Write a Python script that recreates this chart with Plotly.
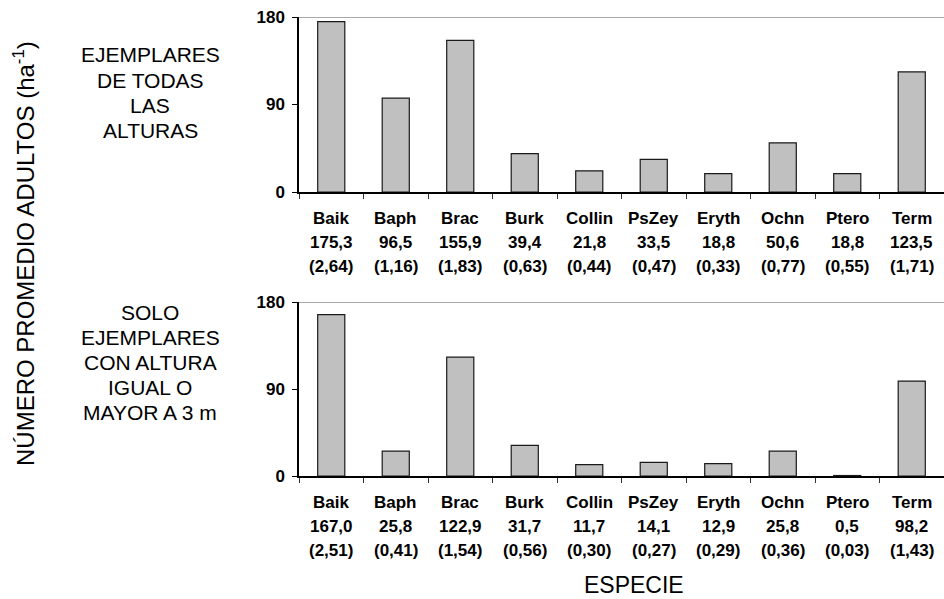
import plotly.graph_objects as go

# Species codes (x categories)
especies = ["Baik", "Baph", "Brac", "Burk", "Collin", "PsZey", "Eryth", "Ochn", "Ptero", "Term"]

# All heights: mean adults per hectare and value in parentheses
todas_media = [175.3, 96.5, 155.9, 39.4, 21.8, 33.5, 18.8, 50.6, 18.8, 123.5]
todas_paren = [2.64, 1.16, 1.83, 0.63, 0.44, 0.47, 0.33, 0.77, 0.55, 1.71]

# Only trees >= 3 m tall
mayor3_media = [167.0, 25.8, 122.9, 31.7, 11.7, 14.1, 12.9, 25.8, 0.5, 98.2]
mayor3_paren = [2.51, 0.41, 1.54, 0.56, 0.30, 0.27, 0.29, 0.36, 0.03, 1.43]

y_ticks = [0, 90, 180]

# panel captions, one entry per line
caption_todas = ["EJEMPLARES", "DE TODAS", "LAS", "ALTURAS"]
caption_mayor3 = ["SOLO", "EJEMPLARES", "CON ALTURA", "IGUAL O", "MAYOR A 3 m"]

W, H = 944, 599
FONT = "Arial, Liberation Sans, sans-serif"


def coma(v, dec):
    return f"{v:.{dec}f}".replace(".", ",")


def py(px):
    return 1 - px / H


fig = go.Figure()

panels = [
    ("x", "y", todas_media, todas_paren),
    ("x2", "y2", mayor3_media, mayor3_paren),
]

annotations = []
shapes = []
for xa, ya, media, paren in panels:
    fig.add_trace(go.Bar(
        x=especies, y=media, xaxis=xa, yaxis=ya, width=0.42,
        marker=dict(color="#C0C0C0", line=dict(color="#1a1a1a", width=1.2)),
        showlegend=False, hoverinfo="x+y",
    ))
    # three-line category labels under each bar
    for e, m, p in zip(especies, media, paren):
        for txt, shift in ((e, -26), (coma(m, 1), -50), (f"({coma(p, 2)})", -74)):
            annotations.append(dict(
                x=e, y=0, xref=xa, yref=f"{ya} domain", text=txt,
                showarrow=False, yanchor="middle", xanchor="center", yshift=shift,
                font=dict(family=FONT, size=17, color="black", weight="bold"),
            ))
    # grey border line across the top of the plot area
    shapes.append(dict(
        type="line", xref=f"{xa} domain", yref=ya, x0=-0.009, x1=1, y0=180, y1=180,
        line=dict(color="#8c8c8c", width=1.5), layer="below",
    ))

x_dom = [299 / W, 1.0]
axis_x = dict(
    domain=x_dom, type="category", showline=True, linecolor="black", linewidth=1.5,
    ticks="outside", tickson="boundaries", ticklen=5, tickcolor="#333333", tickwidth=1.2,
    showticklabels=False, showgrid=False, zeroline=False, range=[-0.5, 9.5],
    automargin=False,
)
axis_y = dict(
    range=[0, 180], tickvals=y_ticks, showline=True, linecolor="black", linewidth=1.5,
    ticks="outside", ticklen=5, tickcolor="black", tickwidth=1.2, showgrid=False, zeroline=False,
    tickfont=dict(family=FONT, size=17, color="black", weight="bold"), ticklabelstandoff=4,
    automargin=False,
)

fig.update_layout(
    xaxis=dict(axis_x, anchor="y"),
    xaxis2=dict(axis_x, anchor="y2"),
    yaxis=dict(axis_y, domain=[py(192), py(17)], anchor="x"),
    yaxis2=dict(axis_y, domain=[py(476), py(302)], anchor="x2"),
)

# panel captions, line by line (25 px spacing)
cap_font = dict(family=FONT, size=21, color="black")
for lines, first_y in ((caption_todas, 55), (caption_mayor3, 312)):
    for i, line in enumerate(lines):
        annotations.append(dict(
            x=150 / W, y=py(first_y + 25.2 * i), xref="paper", yref="paper",
            showarrow=False, xanchor="center", yanchor="middle",
            text=line, font=cap_font,
        ))

# axis titles
annotations.append(dict(
    x=24 / W, y=py(254), xref="paper", yref="paper", showarrow=False, textangle=-90,
    xanchor="center", yanchor="middle",
    text="NÚMERO PROMEDIO ADULTOS (ha<sup>-1</sup>)",
    font=dict(family=FONT, size=24, color="black"),
))
annotations.append(dict(
    x=634 / W, y=py(585), xref="paper", yref="paper", showarrow=False,
    xanchor="center", yanchor="middle",
    text="ESPECIE", font=dict(family=FONT, size=23, color="black"),
))

fig.update_layout(
    width=W, height=H, margin=dict(l=0, r=0, t=0, b=0, autoexpand=False),
    paper_bgcolor="white", plot_bgcolor="white",
    annotations=annotations, shapes=shapes, bargap=0.58,
)

fig.write_html("out.html")
